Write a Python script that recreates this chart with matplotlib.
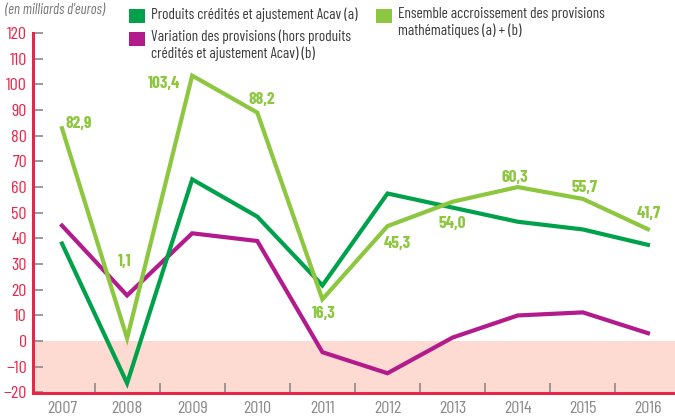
import matplotlib.pyplot as plt
from matplotlib.patches import Rectangle

years = ['2007', '2008', '2009', '2010', '2011', '2012', '2013', '2014', '2015', '2016']
produits = [38, -16.4, 63, 48.5, 21.7, 57.5, 52, 46.5, 43.5, 37.5]
variation = [45, 17.8, 42, 39, -4.3, -12.5, 1.4, 10, 11.2, 3.1]
ensemble = [82.9, 1.1, 103.4, 89, 16.3, 44.8, 54.3, 60, 55.4, 43.6]
ensemble_labels = ['82,9', '1,1', '103,4', '88,2', '16,3', '45,3', '54,0', '60,3', '55,7', '41,7']

c_dark = '#00a14b'
c_light = '#8dc63f'
c_purple = '#b31b8d'
c_red = '#e8264a'
c_grey = '#8a8a8a'
c_text = '#3a3a3a'

plt.rcParams['font.family'] = ['Barlow Condensed', 'DejaVu Sans']

W, H = 675, 417
fig = plt.figure(figsize=(6.75, 4.17), dpi=100)
ax = fig.add_axes([32.5 / W, 24.5 / H, (W - 32.5) / W, 359.5 / H])

x = range(len(years))
ax.axhspan(-20, 0, color='#fddbd3', zorder=0, lw=0)
ax.plot(x, variation, color=c_purple, lw=3, solid_joinstyle='miter')
ax.plot(x, produits, color=c_dark, lw=3, solid_joinstyle='miter')
ax.plot(x, ensemble, color=c_light, lw=3, solid_joinstyle='miter')

# label centre offsets from the point, in pixels
offs = [(17, 6), (-2, 78), (-28, -6), (4, 15), (1, -13),
        (10, -16), (0, -20), (-3, 11), (2, 13), (1, 17)]
for i, lab in enumerate(ensemble_labels):
    ax.annotate(lab, (i, ensemble[i]), xytext=offs[i], textcoords='offset pixels',
                ha='center', va='center_baseline', color=c_light, fontsize=12.5,
                fontweight='bold')

ax.set_xlim(-0.453, 9.416)
ax.set_ylim(-20, 120)
ax.set_yticks(range(-20, 121, 10))
ax.set_xticks(range(len(years)))
ax.set_xticklabels(years)
ax.set_xticks([i + 0.5 for i in range(9)], minor=True)
ax.tick_params(axis='x', which='major', length=0, pad=6, labelsize=13, labelcolor=c_grey)
ax.tick_params(axis='x', which='minor', direction='in', length=7, width=1.2, color=c_grey)
ax.tick_params(axis='y', direction='in', length=7, width=1.2, color=c_grey,
               labelsize=13, labelcolor=c_red, pad=4)

for s in ['top', 'right']:
    ax.spines[s].set_visible(False)
for s in ['left', 'bottom']:
    ax.spines[s].set_color(c_red)
    ax.spines[s].set_linewidth(2.2)

fig.text(5 / W, 1 - 10 / H, "(en milliards d'euros)", fontsize=10.5, style='italic',
         color='#777777', va='center')


def legend_item(px, py, color, text):
    fig.patches.append(Rectangle((px / W, 1 - (py + 14) / H), 16 / W, 14 / H,
                                 color=color, lw=0, transform=fig.transFigure))
    fig.text((px + 22) / W, 1 - (py - 2) / H, text, fontsize=11, color=c_text,
             va='top', linespacing=1.2)


legend_item(129, 9, c_dark, 'Produits crédités et ajustement Acav (a)')
legend_item(129, 32, c_purple, 'Variation des provisions (hors produits\ncrédités et ajustement Acav) (b)')
legend_item(376, 9, c_light, 'Ensemble accroissement des provisions\nmathématiques (a) + (b)')

fig.savefig('out.png', dpi=100)
